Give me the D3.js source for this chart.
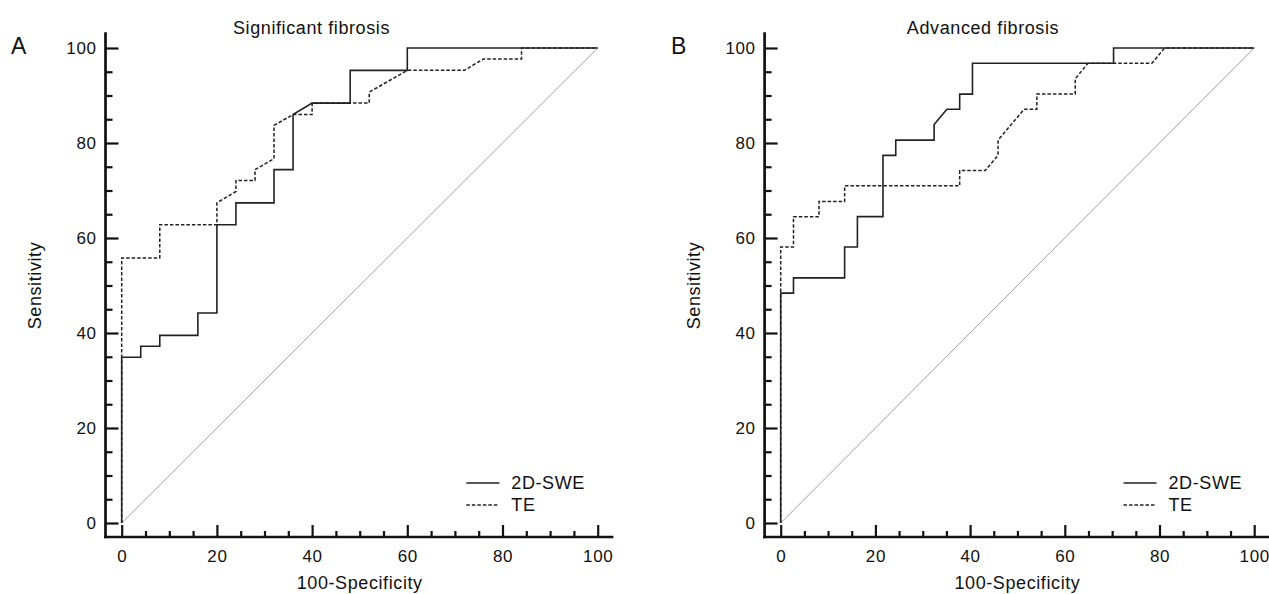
<!DOCTYPE html>
<html>
<head>
<meta charset="utf-8">
<script src="https://cdn.jsdelivr.net/npm/d3@7"></script>
<style>
  body { margin: 0; background: #fff; }
  text { font-family: Arial, "Liberation Sans", sans-serif; fill: #111; }
</style>
</head>
<body>
<script>
// ROC curves, x = 100-Specificity, y = Sensitivity
var sweA_x = [0, 0, 4, 4, 8, 8, 16, 16, 20, 20, 24, 24, 32, 32, 36, 36, 40, 48, 48, 60, 60, 100];
var sweA_y = [0, 34.9, 34.9, 37.2, 37.2, 39.5, 39.5, 44.2, 44.2, 62.8, 62.8, 67.4, 67.4, 74.4, 74.4, 86.0, 88.4, 88.4, 95.3, 95.3, 100, 100];
var teA_x = [0, 0, 8, 8, 20, 20, 24, 24, 28, 28, 32, 32, 36, 40, 40, 52, 52, 60, 72, 76, 84, 84, 100];
var teA_y = [0, 55.8, 55.8, 62.8, 62.8, 67.4, 69.8, 72.1, 72.1, 74.4, 76.7, 83.7, 86.0, 86.0, 88.4, 88.4, 90.7, 95.3, 95.3, 97.7, 97.7, 100, 100];

var sweB_x = [0, 0, 2.7, 2.7, 13.5, 13.5, 16.2, 16.2, 21.6, 21.6, 24.3, 24.3, 32.4, 32.4, 35.1, 37.8, 37.8, 40.5, 40.5, 70.3, 70.3, 100];
var sweB_y = [0, 48.4, 48.4, 51.6, 51.6, 58.1, 58.1, 64.5, 64.5, 77.4, 77.4, 80.6, 80.6, 83.9, 87.1, 87.1, 90.3, 90.3, 96.8, 96.8, 100, 100];
var teB_x = [0, 0, 2.7, 2.7, 8.1, 8.1, 13.5, 13.5, 37.8, 37.8, 43.2, 45.9, 45.9, 51.4, 54.1, 54.1, 62.2, 62.2, 64.9, 78.4, 81.1, 100];
var teB_y = [0, 58.1, 58.1, 64.5, 64.5, 67.7, 67.7, 71.0, 71.0, 74.2, 74.2, 77.4, 80.6, 87.1, 87.1, 90.3, 90.3, 93.5, 96.8, 96.8, 100, 100];

var majorTicks = [0, 20, 40, 60, 80, 100];
var minorTicks = d3.range(0, 101, 5).filter(function(d) { return d % 20 != 0; });
var seriesNames = ["2D-SWE", "TE"];

var svg = d3.select("body").append("svg")
    .attr("width", 1269)
    .attr("height", 594);

function styleText(sel, size) {
  sel.style("font-size", size + "px")
     .style("font-family", "Arial, 'Liberation Sans', sans-serif")
     .style("letter-spacing", "0.6px")
     .attr("fill", "#111");
}

function panel(opt) {
  var x = d3.scaleLinear().domain([0, 100]).range([opt.x0, opt.x1]);
  var y = d3.scaleLinear().domain([0, 100]).range([523, 48]);
  var g = svg.append("g");

  // axis lines sit a bit outside the data area
  var axX = x(-3.4), axY = y(-2.95);

  // diagonal reference
  g.append("line")
      .attr("x1", x(0)).attr("y1", y(0))
      .attr("x2", x(100)).attr("y2", y(100))
      .attr("stroke", "#a0a0a0").attr("stroke-width", 1);

  var line = d3.line()
      .x(function(d) { return x(d[0]); })
      .y(function(d) { return y(d[1]); });

  g.append("path")
      .datum(d3.zip(opt.teX, opt.teY))
      .attr("d", line)
      .attr("fill", "none")
      .attr("stroke", "#222")
      .attr("stroke-width", 1.5)
      .attr("stroke-dasharray", "3.5,2");

  g.append("path")
      .datum(d3.zip(opt.sweX, opt.sweY))
      .attr("d", line)
      .attr("fill", "none")
      .attr("stroke", "#222")
      .attr("stroke-width", 1.6);

  // y axis
  var ya = g.append("g").attr("transform", "translate(" + axX + ",0)");
  ya.call(d3.axisLeft(y).tickValues(majorTicks).tickSize(-13).tickPadding(9));
  ya.append("g").call(d3.axisLeft(y).tickValues(minorTicks).tickSize(-7).tickFormat(""));
  ya.selectAll(".domain").remove();
  ya.append("line")
      .attr("x1", 0).attr("x2", 0)
      .attr("y1", y(103.3)).attr("y2", axY + 1.3)
      .attr("stroke", "#111").attr("stroke-width", 2.7);

  // x axis
  var xa = g.append("g").attr("transform", "translate(0," + axY + ")");
  xa.call(d3.axisBottom(x).tickValues(majorTicks).tickSize(-12).tickPadding(13));
  xa.append("g").call(d3.axisBottom(x).tickValues(minorTicks).tickSize(-6).tickFormat(""));
  xa.selectAll(".domain").remove();
  xa.append("line")
      .attr("x1", axX - 1.3).attr("x2", x(103.3))
      .attr("y1", 0).attr("y2", 0)
      .attr("stroke", "#111").attr("stroke-width", 2.7);

  g.selectAll(".tick line").attr("stroke", "#111").attr("stroke-width", 2.2);
  styleText(g.selectAll(".tick text"), 17);

  // titles
  styleText(g.append("text")
      .attr("x", opt.titleX).attr("y", 34)
      .attr("text-anchor", "middle")
      .text(opt.title), 18);
  styleText(g.append("text")
      .attr("x", (x(0) + x(100)) / 2).attr("y", 589)
      .attr("text-anchor", "middle")
      .text("100-Specificity"), 18);
  styleText(g.append("text")
      .attr("transform", "translate(" + (axX - 65) + "," + y(50) + ") rotate(-90)")
      .attr("text-anchor", "middle")
      .text("Sensitivity"), 18);
  styleText(g.append("text")
      .attr("x", opt.letterX).attr("y", 54)
      .text(opt.letter), 23);

  // legend
  var lx = x(72.4), ly = 483;
  seriesNames.forEach(function(name, i) {
    g.append("line")
        .attr("x1", lx).attr("x2", lx + 33)
        .attr("y1", ly + i * 22).attr("y2", ly + i * 22)
        .attr("stroke", "#222").attr("stroke-width", 1.5)
        .attr("stroke-dasharray", i == 0 ? null : "3.5,2");
    styleText(g.append("text")
        .attr("x", lx + 45).attr("y", ly + i * 22 + 6)
        .text(name), 18);
  });
}

panel({x0: 121.7, x1: 597.7, title: "Significant fibrosis", titleX: 311.5, letter: "A", letterX: 11,
       sweX: sweA_x, sweY: sweA_y, teX: teA_x, teY: teA_y});
panel({x0: 780.7, x1: 1254.2, title: "Advanced fibrosis", titleX: 983, letter: "B", letterX: 671,
       sweX: sweB_x, sweY: sweB_y, teX: teB_x, teY: teB_y});
</script>
</body>
</html>
